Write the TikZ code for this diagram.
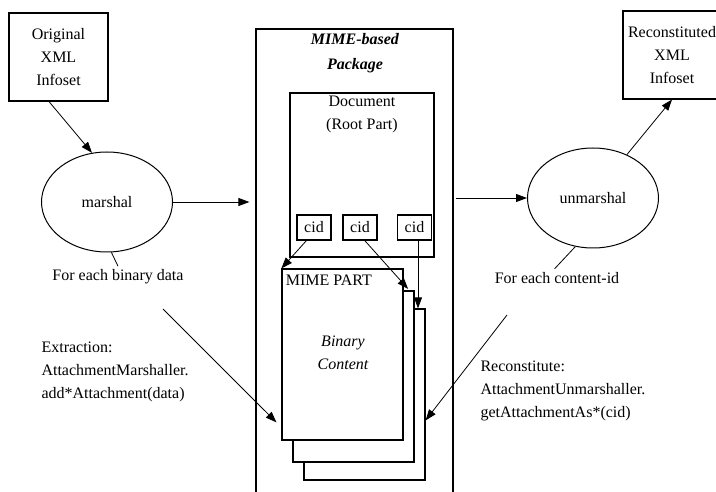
\documentclass[tikz,border=0pt]{standalone}
\usepackage{fontspec}
\setmainfont{Liberation Serif}
\usetikzlibrary{arrows.meta}
\usetikzlibrary{shapes.geometric}
\usetikzlibrary{positioning}

\tikzset{
	box/.style={draw, rectangle, line width=1.2pt, inner sep=0pt, align=center},
	page/.style={box, fill=white, minimum width=121pt, minimum height=171pt},
	cidbox/.style={box, minimum width=34pt, minimum height=25pt},
	proc/.style={draw, ellipse, line width=1pt, inner sep=0pt, minimum width=131pt, minimum height=100pt},
	link/.style={line width=0.8pt},
	flow/.style={link, -{Triangle[length=11pt,width=8pt]}}
}

\begin{document}
\begin{tikzpicture}
	[x=1pt, y=-1pt, every node/.style={font=\fontsize{16}{23}\selectfont}]
	\clip[use as bounding box] (0,0) rectangle (716,492);
	% left side
	\node[box, minimum width=99pt, minimum height=88pt] (orig) at (58.5,57) {Original\\XML\\Infoset};
	\node[proc] (marshal) at (107,202) {marshal};
	\node (bindata) at (118,277) {For each binary data};
	\node[align=left, anchor=west] (extract) at (38,372) {Extraction:\\AttachmentMarshaller.\\add*Attachment(data)};
	\coordinate (extstart) at (163,309);
	% package
	\node[box, minimum width=197pt, minimum height=491pt] (pkg) at (354.5,274.5) {};
	\node[align=center, font=\fontsize{16}{25}\selectfont\bfseries\itshape] (pkgtitle) at (355,53) {MIME-based\\Package};
	\node[box, minimum width=144pt, minimum height=164pt] (doc) at (362,175) {};
	\node[align=center] (doctitle) at (362,114) {Document\\(Root Part)};
	\node[cidbox] (cid1) at (314,227.5) {cid};
	\node[cidbox] (cid2) at (360,227.5) {cid};
	\node[cidbox] (cid3) at (414.5,227.5) {cid};
	\node[page] (page3) at (364.5,394.5) {};
	\node[page] (page2) at (353.5,376.5) {};
	\node[page] (page1) at (342.5,354.5) {};
	\node[anchor=north west] (mimelbl) at ([xshift=1pt,yshift=-3pt]page1.north west) {MIME PART};
	\node[align=center, font=\fontsize{16}{23}\selectfont\itshape] (bincont) at (343,353) {Binary\\Content};
	% right side
	\node[box, minimum width=98pt, minimum height=88pt] (recon) at (672,55) {Reconstituted\\XML\\Infoset};
	\node[proc] (unmarshal) at (593,198) {unmarshal};
	\node (cidlbl) at (557,278) {For each content-id};
	\node[align=left, anchor=west] (recst) at (477,391) {Reconstitute:\\AttachmentUnmarshaller.\\getAttachmentAs*(cid)};
	\coordinate (recstart) at (507,315);
	% connectors
	\draw[flow] (orig.258) -- (marshal.107);
	\draw[flow, shorten >=6pt] (marshal.east) -- (marshal.east -| pkg.west);
	\draw[flow, shorten <=2pt] (unmarshal.west -| pkg.east) -- (unmarshal.west);
	\draw[flow] (unmarshal.52) -- (recon.south);
	\draw[link] (marshal.-85) -- (bindata.north);
	\draw[link] (unmarshal.250) -- (cidlbl.105);
	\draw[flow, shorten >=7pt] (extstart) -- (page1.230);
	\draw[flow] (recstart) -- (page3.-23);
	\draw[flow] (cid1.240) -- (page1.north west);
	\draw[flow, shorten >=2pt] (cid2.-70) -- (page2.57);
	\draw[flow] (cid3.-75) -- (cid3.-75 |- page3.north);
\end{tikzpicture}
\end{document}
